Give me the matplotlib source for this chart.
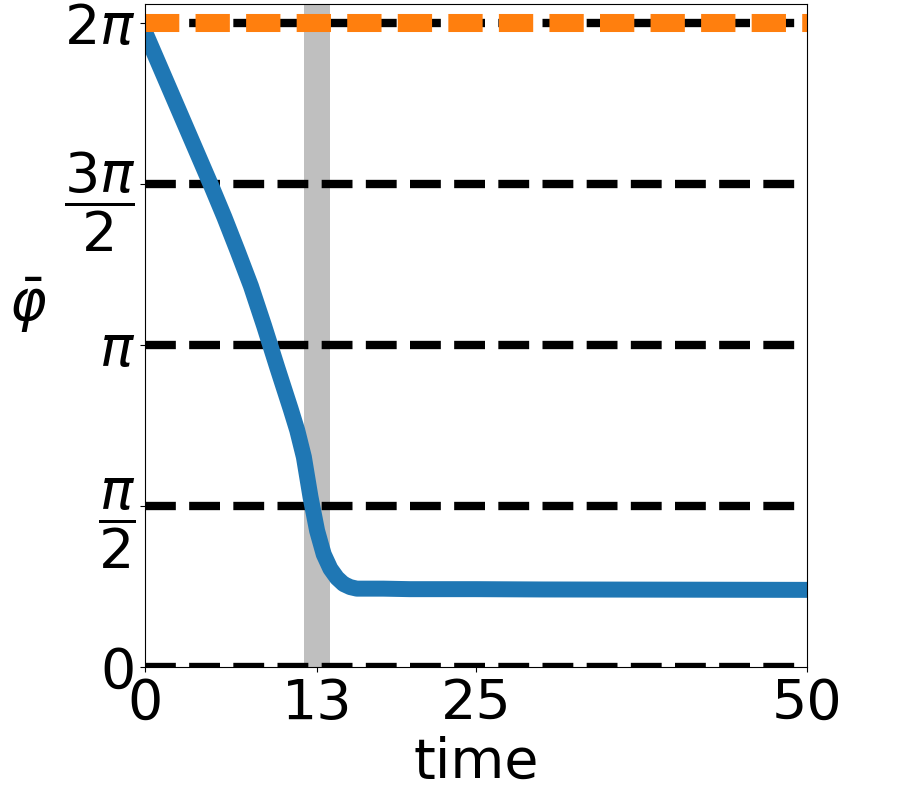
import matplotlib
matplotlib.use("Agg")
import matplotlib.pyplot as plt
import numpy as np

# mean phase of the first group (blue)
time_blue = [0, 1, 2, 3, 4, 5, 6, 7, 8, 9, 10, 11, 11.5, 12, 12.5, 13, 13.5,
             14, 14.5, 15, 15.5, 16, 18, 20, 25, 30, 35, 40, 45, 50]
phi_blue = [6.20, 5.90, 5.60, 5.30, 5.00, 4.70, 4.39, 4.06, 3.72, 3.33, 2.92,
            2.52, 2.31, 2.05, 1.66, 1.33, 1.10, 0.96, 0.87, 0.81, 0.78, 0.765,
            0.765, 0.76, 0.76, 0.757, 0.756, 0.755, 0.754, 0.753]

# second group stays at 2pi (orange)
time_orange = [0, 10, 20, 30, 40, 50]
phi_orange = [2 * np.pi] * 6

ref_levels = [0, np.pi / 2, np.pi, 3 * np.pi / 2, 2 * np.pi]
ytick_labels = ["0", r"$\dfrac{\pi}{2}$", r"$\pi$", r"$\dfrac{3\pi}{2}$", r"$2\pi$"]
xticks = [0, 13, 25, 50]
span = (12, 14)

fig = plt.figure(figsize=(9.02, 7.9), dpi=100)
ax = fig.add_axes([145 / 902, 1 - 667 / 790, 662 / 902, 663 / 790])

ax.axvspan(span[0], span[1], color="gray", alpha=0.5, lw=0)
for lev in ref_levels:
    ax.plot([0, 50], [lev, lev], "--", color="black", lw=6)

ax.plot(time_blue, phi_blue, color="#1f77b4", lw=11.5, solid_capstyle="butt")
ax.plot(time_orange, phi_orange, color="#ff7f0e", lw=13,
        linestyle=(0, (1.9, 0.9)))

ax.set_xlim(0, 50)
ax.set_ylim(0, 2 * np.pi + 0.19)
ax.set_xticks(xticks)
ax.set_xticklabels([str(t) for t in xticks])
ax.set_yticks(ref_levels)
ax.set_yticklabels(ytick_labels)
ax.tick_params(labelsize=40)

ax.set_xlabel("time", fontsize=40)
ax.set_ylabel(r"$\bar{\varphi}$", fontsize=40, rotation=0)
ax.yaxis.set_label_coords(-0.177, 0.5)

fig.savefig("out.png", dpi=100)
